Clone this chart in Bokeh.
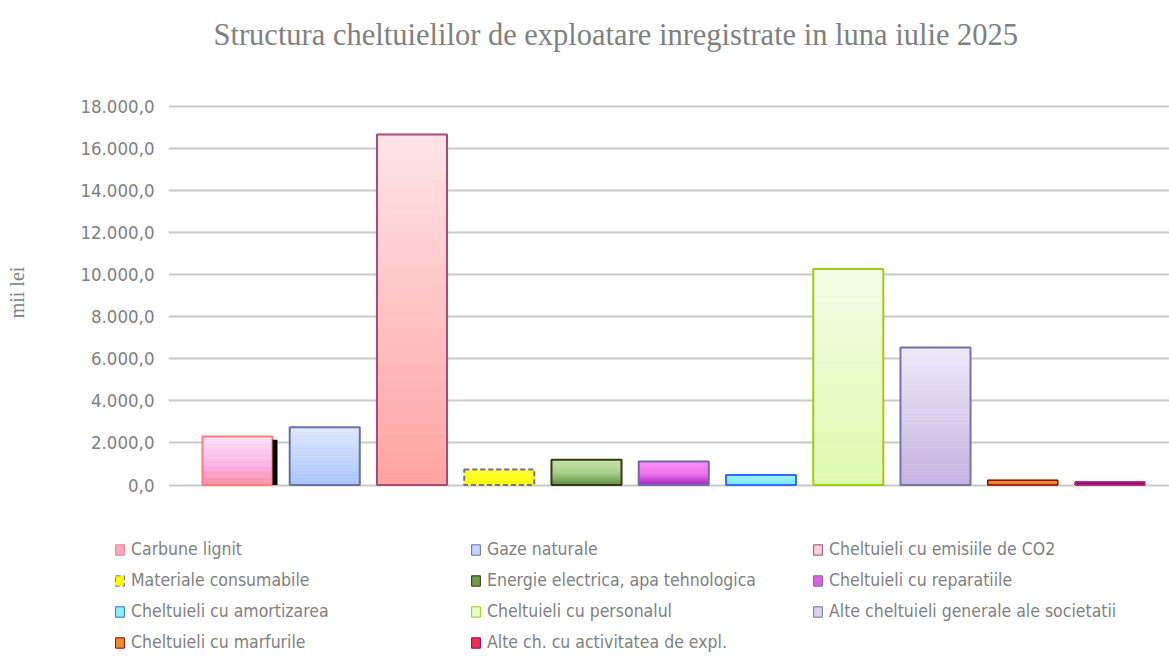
from bokeh.plotting import figure
from bokeh.layouts import column
from bokeh.models import (Range1d, FixedTicker, CustomJSTickFormatter, Legend,
                          LegendItem, Title)
from bokeh.embed import file_html
from bokeh.resources import INLINE

# ---------------- data ----------------
title_text = "Structura cheltuielilor de exploatare inregistrate in luna iulie 2025"
y_axis_title = "mii lei"
categories = [
    "Carbune lignit",
    "Gaze naturale",
    "Cheltuieli cu emisiile de CO2",
    "Materiale consumabile",
    "Energie electrica, apa tehnologica",
    "Cheltuieli cu reparatiile",
    "Cheltuieli cu amortizarea",
    "Cheltuieli cu personalul",
    "Alte cheltuieli generale ale societatii",
    "Cheltuieli cu marfurile",
    "Alte ch. cu activitatea de expl.",
]
values = [2300, 2740, 16660, 740, 1200, 1120, 470, 10270, 6530, 230, 150]
marker_value = [2150]          # thin dark bar beside the first column
y_ticks = [0, 2000, 4000, 6000, 8000, 10000, 12000, 14000, 16000, 18000]

# legend layout: three columns (indices into categories)
legend_columns = [[0, 3, 6, 9], [1, 4, 7, 10], [2, 5, 8]]

# ---------------- styles ----------------
grad = [
    [(0, "#FF8A9A"), (0.4, "#F9B0E6"), (1, "#FEE2F3")],
    [(0, "#A6C4FF"), (1, "#DEE8FF")],
    [(0, "#FFA2A2"), (1, "#FFE4E7")],
    [(0, "#FFFF00"), (1, "#FFFF40")],
    [(0, "#5C8A3C"), (0.5, "#A6CF88"), (1, "#C6E2AA")],
    [(0, "#A01EC0"), (0.5, "#EE74EE"), (1, "#F98CF9")],
    [(0, "#7AE6F2"), (1, "#A4F4FA")],
    [(0, "#DDFAAE"), (1, "#F3FDE6")],
    [(0, "#C6B2E2"), (1, "#EEE8F8")],
    [(0, "#E8781C"), (1, "#F49A3A")],
    [(0, "#7E0A80"), (1, "#8E1290")],
]
border = ["#FF7C80", "#6B6FA6", "#A64A7C", "#6B6FA6", "#3A3A10", "#6E6EA0",
          "#2E6BFF", "#A2CC10", "#7474A6", "#8E0E0E", "#E03C5A"]
border_w = [2, 2, 2, 2, 2, 2, 2, 2, 2, 1.5, 1]
border_dash = ["solid", "solid", "solid", "5 3", "solid", "solid", "solid",
               "solid", "solid", "solid", "solid"]
legend_fill = ["#FFA8C0", "#C4D6FF", "#FFD0D4", "#FFFF00", "#6E9A4C", "#E060E8",
               "#8CEEF6", "#E8FBC8", "#DCD0EE", "#F08A28", "#F0304A"]
legend_line = ["#FF7C80", "#6B6FA6", "#A64A7C", "#6B6FA6", "#3A3A10", "#6E6EA0",
               "#2E6BFF", "#A2CC10", "#7474A6", "#8E0E0E", "#8B008B"]

TEXT_GREY = "#7F7F7F"
SANS = "DejaVu Sans Condensed"
SERIF = "Liberation Serif"


def _hex(c):
    return tuple(int(c[i:i + 2], 16) for i in (1, 3, 5))


def interp(stops, t):
    for (p0, c0), (p1, c1) in zip(stops[:-1], stops[1:]):
        if t <= p1:
            f = 0 if p1 == p0 else (t - p0) / (p1 - p0)
            a, b = _hex(c0), _hex(c1)
            return "#%02X%02X%02X" % tuple(round(a[k] + (b[k] - a[k]) * f) for k in range(3))
    return stops[-1][1]


# ---------------- geometry ----------------
W = 1169
H_MAIN = 538
H_LEG = 130
FRAME_LEFT = 168
FRAME_TOP = 46
px_per_unit_y = 21.044 / 1000.0
zero_px = 484.5
spacing_px = 87.25
first_center_px = 237.0
half_w = 0.4015

x_start = -(first_center_px - FRAME_LEFT) / spacing_px
x_end = (W - first_center_px) / spacing_px
y_end = (zero_px - FRAME_TOP) / px_per_unit_y
y_start = -(H_MAIN - zero_px) / px_per_unit_y

# ---------------- main chart ----------------
p = figure(width=W, height=H_MAIN, output_backend="svg", toolbar_location=None,
           x_range=Range1d(x_start, x_end), y_range=Range1d(y_start, y_end),
           x_axis_location=None, min_border_left=FRAME_LEFT, min_border_right=0,
           min_border_top=FRAME_TOP, min_border_bottom=0)
p.frame_align = False
p.outline_line_color = None

p.title = Title(text=title_text, align="left", offset=45, standoff=-11,
                text_font=SERIF, text_font_size="30.5px", text_color="#808080",
                text_font_style="normal")

p.xgrid.visible = False
p.ygrid.ticker = FixedTicker(ticks=y_ticks)
p.ygrid.grid_line_color = "#CACACA"
p.ygrid.grid_line_width = 2

ax = p.yaxis[0]
ax.ticker = FixedTicker(ticks=y_ticks)
ax.formatter = CustomJSTickFormatter(code="""
    var s = tick.toFixed(1).replace('.', ',');
    return s.replace(/\\B(?=(\\d{3})+(?!\\d))/g, '.');
""")
ax.axis_line_color = None
ax.major_tick_line_color = None
ax.minor_tick_line_color = None
ax.major_label_standoff = 8
ax.major_label_text_font = SANS
ax.major_label_text_font_size = "18.5px"
ax.major_label_text_color = TEXT_GREY
ax.axis_label = y_axis_title
ax.axis_label_standoff = 49
ax.axis_label_text_font = SERIF
ax.axis_label_text_font_size = "20px"
ax.axis_label_text_font_style = "normal"
ax.axis_label_text_color = "#808080"

N_BANDS = 40
for i, v in enumerate(values):
    lefts, rights, bots, tops, cols = [], [], [], [], []
    for k in range(N_BANDS):
        lefts.append(i - half_w)
        rights.append(i + half_w)
        bots.append(v * k / N_BANDS)
        tops.append(v * (k + 1) / N_BANDS)
        cols.append(interp(grad[i], (k + 0.5) / N_BANDS))
    p.quad(left=lefts, right=rights, bottom=bots, top=tops, fill_color=cols,
           line_color=cols, line_width=0.5)
    p.quad(left=[i - half_w], right=[i + half_w], bottom=[0], top=[v],
           fill_color=None, line_color=border[i], line_width=border_w[i],
           line_dash=border_dash[i])

p.quad(left=[half_w], right=[half_w + 0.057], bottom=[0], top=marker_value,
       fill_color="black", line_color=None)

# ---------------- legend strip ----------------
q = figure(width=W, height=H_LEG, output_backend="svg", toolbar_location=None,
           x_range=Range1d(x_start, x_end), y_range=Range1d(0, 1),
           x_axis_location=None, y_axis_location=None,
           min_border_left=0, min_border_right=0, min_border_top=0, min_border_bottom=0)
q.frame_align = False
q.outline_line_color = None
q.grid.visible = False

legend_renderers = []
for i, v in enumerate(values):
    r = q.quad(left=[i - half_w], right=[i + half_w], bottom=[0], top=[v],
               fill_color=legend_fill[i], line_color=legend_line[i], line_width=1,
               line_dash=border_dash[i], visible=False)
    legend_renderers.append(r)

legend_x = [114, 470, 812]
row_centers = [11, 42, 73, 104]
for c, idxs in enumerate(legend_columns):
    items = [LegendItem(label=categories[j], renderers=[legend_renderers[j]]) for j in idxs]
    y_loc = H_LEG - (row_centers[len(idxs) - 1] + 10)
    leg = Legend(items=items, location=(legend_x[c], y_loc), orientation="vertical",
                 label_text_font=SANS, label_text_font_size="17.5px",
                 label_text_color=TEXT_GREY, glyph_width=11, glyph_height=13,
                 label_standoff=6, spacing=11, padding=0, margin=0,
                 border_line_color=None, background_fill_alpha=0,
                 label_text_baseline="middle")
    q.add_layout(leg)

layout = column(p, q, spacing=0)
open("out.html", "w").write(file_html(layout, INLINE))
